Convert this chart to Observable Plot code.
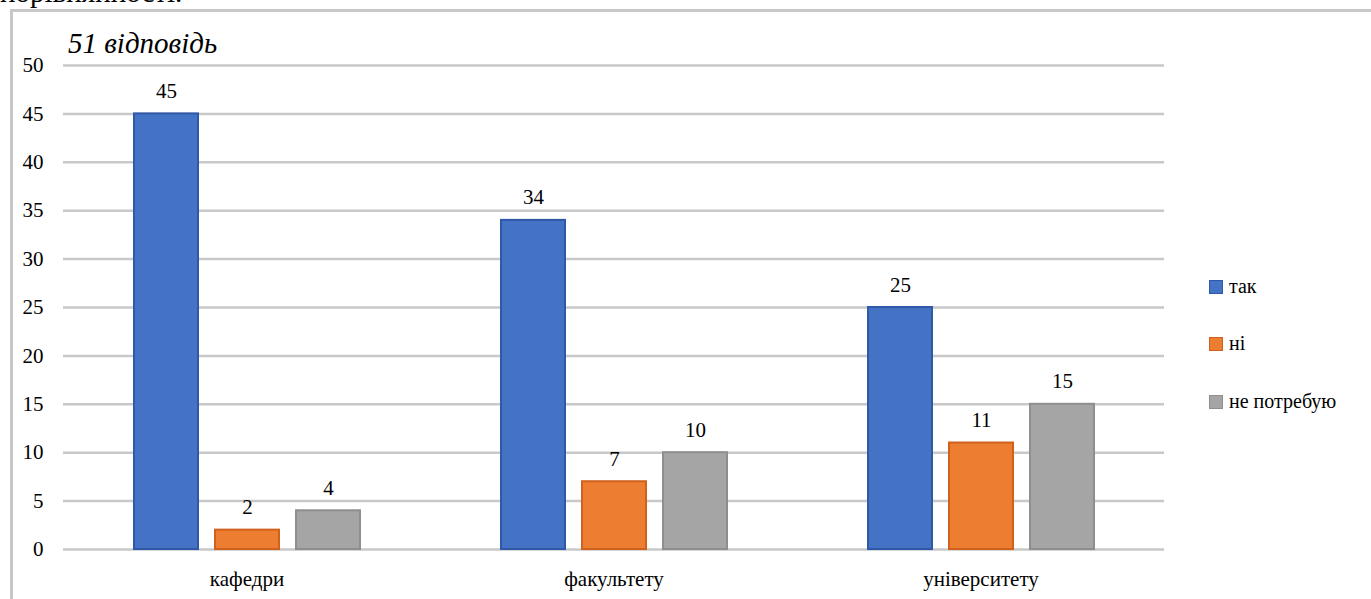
<!DOCTYPE html>
<html>
<head>
<meta charset="utf-8">
<script src="https://cdn.jsdelivr.net/npm/d3@7"></script>
<script src="https://cdn.jsdelivr.net/npm/@observablehq/plot@0.6"></script>
<style>
  html, body { margin: 0; padding: 0; background: #fff; }
  #wrap { position: relative; width: 1371px; height: 599px; overflow: hidden; font-family: "Liberation Serif", "Times New Roman", "DejaVu Serif", serif; }
  #cut { position: absolute; left: 0; top: 0; height: 9px; width: 600px; overflow: hidden; }
  #cut span { position: absolute; left: 0; top: -24px; font-size: 29px; color: #000; white-space: nowrap; }
  #frame { position: absolute; left: 10px; top: 9px; width: 1400px; height: 700px; border-top: 3px solid #c8c8c8; border-left: 3px solid #c8c8c8; }
  #title { position: absolute; left: 68px; top: 27px; font-size: 29px; font-style: italic; color: #000; white-space: nowrap; }
  #chart { position: absolute; left: 0; top: 0; }
  #chart svg, #chart svg text { font-family: "Liberation Serif", "Times New Roman", "DejaVu Serif", serif !important; }
  .leg { position: absolute; left: 1209px; font-size: 20px; color: #000; white-space: nowrap; display: flex; align-items: center; }
  .leg i { display: inline-block; width: 12px; height: 12px; margin-right: 6px; border: 1px solid; }
</style>
</head>
<body>
<div id="wrap">
  <div id="cut"><span>порівнянності.</span></div>
  <div id="frame"></div>
  <div id="chart"></div>
  <div id="title">51 відповідь</div>
  <div id="legend"></div>
</div>
<script>
const categories = ["кафедри", "факультету", "університету"];
const seriesNames = ["так", "ні", "не потребую"];
const valuesTak = [45, 34, 25];
const valuesNi = [2, 7, 11];
const valuesNe = [4, 10, 15];
const yTicks = [0, 5, 10, 15, 20, 25, 30, 35, 40, 45, 50];
const fills = ["#4472C4", "#ED7D31", "#A5A5A5"];
const strokes = ["#2F58A8", "#D0611C", "#8E8E8E"];

const seriesValues = [valuesTak, valuesNi, valuesNe];
const rows = [];
seriesNames.forEach((s, si) => {
  categories.forEach((c, ci) => rows.push({cat: c, series: s, value: seriesValues[si][ci]}));
});

const barMarks = seriesNames.map((s, si) =>
  Plot.barY(rows.filter(d => d.series === s), {
    fx: "cat", x: "series", y: "value",
    fill: fills[si], stroke: strokes[si], strokeWidth: 2
  })
);

const chart = Plot.plot({
  width: 1371,
  height: 599,
  marginLeft: 62,
  marginRight: 206,
  marginTop: 65,
  marginBottom: 50,
  style: {fontFamily: "'Liberation Serif', 'Times New Roman', serif", fontSize: "21px", color: "#000", background: "transparent"},
  fx: {domain: categories, padding: 0, axis: "bottom", tickSize: 0, tickPadding: 22, label: null},
  x: {domain: seriesNames, paddingInner: 0.21, paddingOuter: 0.85, axis: null},
  y: {domain: [0, 50], ticks: yTicks, tickSize: 0, tickPadding: 20, label: null},
  marks: [
    Plot.ruleY(yTicks, {stroke: "#c8c8c8", strokeWidth: 2.5}),
    ...barMarks,
    Plot.text(rows, {fx: "cat", x: "series", y: "value", text: d => String(d.value), lineAnchor: "bottom", dy: -16, fontSize: 21})
  ]
});
document.getElementById("chart").appendChild(chart);

const legend = document.getElementById("legend");
const legendTops = [275, 332, 390];
seriesNames.forEach((s, i) => {
  const el = document.createElement("div");
  el.className = "leg";
  el.style.top = legendTops[i] + "px";
  el.innerHTML = `<i style="background:${fills[i]};border-color:${strokes[i]}"></i>${s}`;
  legend.appendChild(el);
});
</script>
</body>
</html>
